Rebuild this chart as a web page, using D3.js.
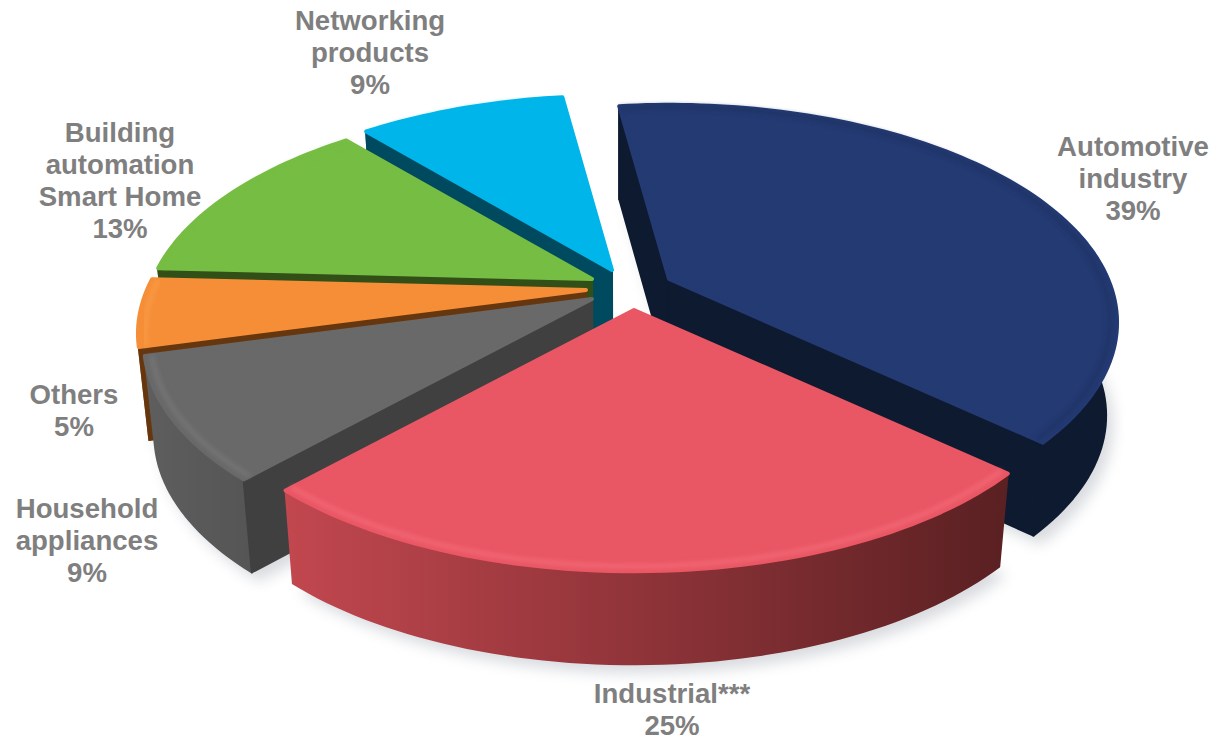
<!DOCTYPE html>
<html>
<head>
<meta charset="utf-8">
<script src="https://cdn.jsdelivr.net/npm/d3@7"></script>
<style>
  html, body { margin:0; padding:0; background:#fff; }
  svg { display:block; }
  text { font-family:"Liberation Sans", Arial, sans-serif; font-weight:700; font-size:27.6px; fill:#7f7f7f; text-anchor:middle; }
</style>
</head>
<body>
<svg id="svg" width="1212" height="743"></svg>
<script>
// data
const categories = ['Automotive industry', 'Industrial***', 'Household appliances', 'Others', 'Building automation Smart Home', 'Networking products'];
const shares = [39, 25, 9, 5, 13, 9];
const labelLines = [
  ['Automotive', 'industry', '39%'],
  ['Industrial***', '25%'],
  ['Household', 'appliances', '9%'],
  ['Others', '5%'],
  ['Building', 'automation', 'Smart Home', '13%'],
  ['Networking', 'products', '9%']
];

// look
const topColors  = ['#243a73', '#e95664', '#696969', '#f58e37', '#76bd43', '#00b5e9'];
const wallColors = ['#0e1a30', '#5f2327', '#404040', '#66360f', '#314f17', '#004a5f'];
const rimLeft    = ['#0e1a30', '#c2474f', '#5e5e5e', '#a8601f', '#4d7a2a', '#006f8f'];
const rimRight   = ['#0e1a30', '#5a2022', '#555555', '#8a4f18', '#3d6020', '#005a75'];
const edgeColors = ['#1d3060', '#f7707c', '#7c7c7c', '#fba04c', '#76bd43', '#00b5e9'];

// layout: where each pulled out slice has its tip, and where its label sits
const tips = [[669, 279], [634, 310], [592, 299], [586, 290], [592, 279], [612, 270]];
const labelAt = [[1133, 156], [672, 703], [87, 518], [74, 404], [120, 142], [370, 30]];
const lineStep = 32;
const startDeg = -7.8;
const persp = 0.2, depth = 93, shrink = 0.978, vanishX = 620;
const drawOrder = [5, 4, 3, 2, 0, 1];

const svg = d3.select('#svg');
const defs = svg.append('defs');
defs.append('filter').attr('id', 'soft').attr('x', '-10%').attr('y', '-10%').attr('width', '120%').attr('height', '120%')
  .append('feGaussianBlur').attr('stdDeviation', 7);
defs.append('filter').attr('id', 'edge').attr('x', '-5%').attr('y', '-5%').attr('width', '110%').attr('height', '110%')
  .append('feGaussianBlur').attr('stdDeviation', 2.2);

const pie = d3.pie().sort(null).value(d => d)
  .startAngle(startDeg * Math.PI / 180)
  .endAngle((startDeg + 360) * Math.PI / 180);
const arcs = pie(shares);

const sx = d3.scaleLinear().domain([-1, 1]).range([-439, 439]);
const sy = d3.scaleLinear().domain([-1, 1]).range([-209, 209]);

// top face point of slice i at angle a, radius r
function flat(i, a, r) {
  const X = r * Math.sin(a), Y = -r * Math.cos(a);
  const w = 1 / (1 - persp * Y);
  return [tips[i][0] + sx(X) * w, tips[i][1] + sy(Y) * w];
}
function low(p) {
  return [vanishX + (p[0] - vanishX) * shrink, p[1] + depth];
}
const line = d3.line();

function arcPts(i, d, r) {
  const n = Math.max(6, Math.ceil((d.endAngle - d.startAngle) * 40));
  return d3.range(n + 1).map(k => flat(i, d.startAngle + (d.endAngle - d.startAngle) * k / n, r));
}

// soft shadow under everything
const shadow = svg.append('g').attr('filter', 'url(#soft)').attr('opacity', 0.3).attr('transform', 'translate(7,9)');
arcs.forEach((d, i) => {
  const bot = arcPts(i, d, 1).map(low);
  shadow.append('path').attr('d', line(bot.concat([low(tips[i])])) + 'Z').attr('fill', '#7f8794');
});

drawOrder.forEach(i => {
  const d = arcs[i];
  const g = svg.append('g').attr('class', 'slice').attr('data-name', categories[i]);
  const pts = arcPts(i, d, 1), bot = pts.map(low);
  const tip = tips[i], tipLow = low(tip);

  const gid = 'rim' + i;
  const grad = defs.append('linearGradient').attr('id', gid);
  grad.append('stop').attr('offset', 0).attr('stop-color', rimLeft[i]);
  grad.append('stop').attr('offset', 1).attr('stop-color', rimRight[i]);

  g.append('path').attr('d', line(pts.concat(bot.slice().reverse())) + 'Z')
    .attr('fill', `url(#${gid})`).attr('stroke', `url(#${gid})`).attr('stroke-width', 2).attr('stroke-linejoin', 'round');

  // only the cut walls that face the viewer
  const walls = [];
  if (Math.sin(d.startAngle) < 0) walls.push([pts[0], bot[0]]);
  if (Math.sin(d.endAngle) > 0) walls.push([pts[pts.length - 1], bot[bot.length - 1]]);
  walls.forEach(e => {
    g.append('path').attr('d', line([tip, e[0], e[1], tipLow]) + 'Z')
      .attr('fill', wallColors[i]).attr('stroke', wallColors[i]).attr('stroke-width', 2).attr('stroke-linejoin', 'round');
  });

  g.append('path').attr('d', line([tip].concat(pts)) + 'Z')
    .attr('fill', topColors[i]).attr('stroke', topColors[i]).attr('stroke-width', 4).attr('stroke-linejoin', 'round');

  // soft bevel just inside the outer edge
  g.append('path').attr('d', line(arcPts(i, d, 0.985)))
    .attr('fill', 'none').attr('stroke', edgeColors[i]).attr('stroke-width', 5).attr('filter', 'url(#edge)').attr('opacity', 0.6);
});

// labels
labelLines.forEach((lines, i) => {
  const t = svg.append('text');
  lines.forEach((s, k) => {
    t.append('tspan').attr('x', labelAt[i][0]).attr('y', labelAt[i][1] + k * lineStep).text(s);
  });
});
</script>
</body>
</html>
